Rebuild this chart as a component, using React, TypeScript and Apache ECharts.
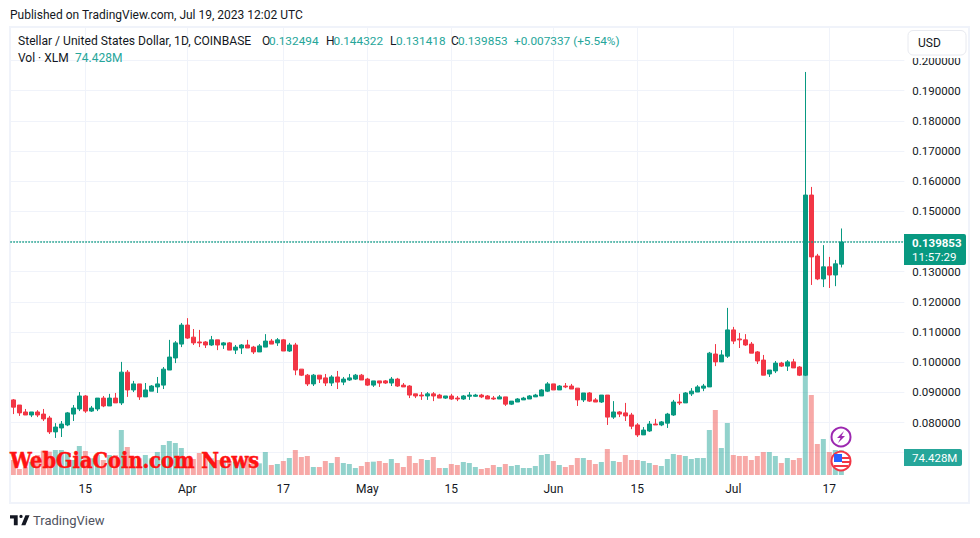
import React, { useEffect, useRef } from "react";
import * as echarts from "echarts";

const opens = [.0875,.0858,.0835,.0825,.0835,.0828,.0815,.0769,.0782,.0792,.0828,.0845,.0888,.0838,.0845,.0881,.0855,.0881,.0865,.0967,.0908,.0928,.0885,.0904,.0918,.0924,.0974,.1014,.1060,.1123,.1083,.1067,.1067,.1057,.1074,.1057,.1064,.1040,.1047,.1057,.1050,.1034,.1050,.1070,.1064,.1074,.1037,.1057,.0977,.0957,.0928,.0957,.0948,.0931,.0951,.0934,.0941,.0944,.0957,.0944,.0924,.0938,.0938,.0931,.0944,.0924,.0921,.0895,.0891,.0888,.0895,.0891,.0881,.0888,.0881,.0878,.0887,.0887,.0891,.0888,.0881,.0878,.0885,.0861,.0868,.0875,.0878,.0885,.0888,.0904,.0928,.0908,.0921,.0921,.0914,.0875,.0898,.0875,.0868,.0891,.0818,.0835,.0832,.0825,.0792,.0759,.0772,.0795,.0792,.0798,.0825,.0868,.0865,.0895,.0901,.0914,.0918,.1027,.1001,.1020,.1107,.1077,.1074,.1060,.1034,.1007,.0961,.0971,.0997,.0987,.1001,.0984,.0957,.1554,.1352,.1276,.1316,.1289,.132494];
const closes = [.0851,.0832,.0825,.0835,.0825,.0812,.0769,.0785,.0795,.0832,.0848,.0888,.0838,.0848,.0881,.0855,.0881,.0865,.0967,.0908,.0928,.0885,.0908,.0921,.0928,.0977,.1017,.1064,.1123,.1080,.1064,.1064,.1057,.1074,.1057,.1064,.1040,.1050,.1057,.1047,.1034,.1054,.1070,.1060,.1074,.1037,.1057,.0974,.0957,.0928,.0957,.0944,.0931,.0951,.0934,.0944,.0948,.0957,.0941,.0924,.0938,.0931,.0931,.0944,.0921,.0918,.0891,.0888,.0888,.0895,.0888,.0881,.0888,.0878,.0878,.0888,.0891,.0891,.0885,.0878,.0878,.0885,.0861,.0871,.0878,.0881,.0888,.0891,.0908,.0928,.0908,.0921,.0918,.0911,.0875,.0898,.0871,.0868,.0891,.0818,.0835,.0828,.0822,.0788,.0759,.0775,.0795,.0792,.0802,.0828,.0868,.0865,.0898,.0904,.0918,.0921,.1030,.1001,.1024,.1107,.1070,.1074,.1057,.1030,.1004,.0957,.0974,.0997,.0987,.1001,.0981,.0957,.1554,.1349,.1276,.1316,.1289,.1326,.139853];
const lows = [.0828,.0822,.0825,.0818,.0818,.0805,.0762,.0749,.0752,.0788,.0805,.0838,.0832,.0835,.0838,.0851,.0855,.0865,.0858,.0885,.0901,.0875,.0885,.0904,.0898,.0911,.0974,.0997,.1050,.1077,.1057,.1050,.1047,.1054,.1040,.1044,.1040,.1027,.1027,.1047,.1027,.1034,.1050,.1060,.1054,.1037,.1034,.0957,.0954,.0921,.0921,.0931,.0921,.0921,.0911,.0924,.0938,.0941,.0941,.0921,.0918,.0918,.0928,.0921,.0918,.0918,.0881,.0881,.0875,.0875,.0871,.0881,.0878,.0875,.0871,.0875,.0875,.0885,.0881,.0878,.0875,.0878,.0855,.0858,.0868,.0875,.0878,.0885,.0888,.0901,.0908,.0908,.0914,.0911,.0855,.0868,.0868,.0868,.0865,.0792,.0812,.0818,.0805,.0778,.0752,.0759,.0769,.0792,.0788,.0782,.0822,.0858,.0865,.0888,.0901,.0904,.0918,.0987,.1001,.1014,.1060,.1047,.1054,.1030,.0994,.0957,.0951,.0964,.0984,.0971,.0981,.0954,.0954,.1256,.1272,.1249,.1246,.1252,.131418];
const highs = [.0878,.0858,.0845,.0835,.0841,.0845,.0822,.0798,.0805,.0835,.0858,.0901,.0891,.0855,.0881,.0888,.0895,.0898,.1001,.0974,.0938,.0928,.0931,.0924,.0951,.0984,.1074,.1070,.1130,.1146,.1110,.1107,.1070,.1087,.1074,.1067,.1067,.1057,.1060,.1074,.1054,.1060,.1093,.1077,.1080,.1077,.1064,.1064,.0977,.0961,.0961,.0957,.0961,.0957,.0971,.0951,.0961,.0961,.0961,.0948,.0938,.0938,.0941,.0951,.0948,.0931,.0924,.0895,.0901,.0901,.0901,.0895,.0888,.0895,.0888,.0891,.0901,.0895,.0895,.0891,.0888,.0891,.0885,.0871,.0881,.0885,.0891,.0895,.0911,.0934,.0928,.0924,.0931,.0928,.0914,.0898,.0901,.0881,.0891,.0891,.0871,.0838,.0865,.0832,.0798,.0785,.0805,.0812,.0805,.0832,.0875,.0895,.0901,.0914,.0924,.0928,.1034,.1060,.1040,.1180,.1117,.1097,.1093,.1067,.1037,.1024,.0974,.1004,.1001,.1007,.1011,.0987,.1962,.1581,.1359,.1388,.1349,.1339,.144322];
const volumes = [45,18,23,40,60,73,70,75,75,65,45,87,72,50,60,45,60,60,135,84,50,50,60,50,69,90,102,96,81,50,48,66,69,50,45,45,42,40,45,57,45,35,69,30,33,42,51,75,54,57,24,24,42,36,54,36,33,21,27,39,40,42,36,48,36,24,57,36,48,45,54,21,21,33,30,39,36,24,18,21,30,24,33,27,30,21,21,27,60,63,42,30,24,30,51,51,45,33,39,78,42,39,60,45,45,42,36,30,27,48,63,60,57,48,51,51,135,195,81,156,60,57,57,45,57,69,69,57,36,51,45,51,300,240,93,108,69,75,74.428];

const startDate = "2023-03-03";
const rightBars = 10;
const tickDates = ["2023-03-15","2023-04-01","2023-04-17","2023-05-01","2023-05-15","2023-06-01","2023-06-15","2023-07-01","2023-07-17"];
const tickLabels = ["15","Apr","17","May","15","Jun","15","Jul","17"];
const lastPrice = 0.139853;

const categories: string[] = [];
{
  const d = new Date(startDate + "T00:00:00Z");
  for (let i = 0; i < opens.length + rightBars; i++) {
    categories.push(d.toISOString().slice(0, 10));
    d.setUTCDate(d.getUTCDate() + 1);
  }
}

const UP = "#089981";
const DOWN = "#F23645";
const VOL_UP = "rgba(38,166,154,0.5)";
const VOL_DOWN = "rgba(239,83,80,0.5)";
const GRID = "#f0f3fa";
const TEXT = "#131722";
const FONT = "Roboto, sans-serif";
const GREEN_TXT = "#26a69a";

echarts.graphic.registerShape(
  "tvlogo",
  echarts.graphic.extendPath("M14 6H0v6h7v12h7V6zM28 24h-7.5L28 6h7.5L28 24zM23 8a3 3 0 1 1-6 0a3 3 0 1 1 6 0z", {})
);

const txt = (x: number, y: number, text: string, fill: string, size = 12, extra: any = {}) => ({
  type: "text",
  x,
  y,
  z: 60,
  silent: true,
  style: {
    text,
    fill,
    font: `${extra.weight || "normal"} ${size}px ${extra.family || FONT}`,
    textVerticalAlign: "middle",
    textAlign: extra.align || "left",
    ...(extra.stroke ? { stroke: extra.stroke, lineWidth: extra.lineWidth || 0.5 } : {}),
  },
});

export default function App() {
  const ref = useRef<HTMLDivElement>(null);
  useEffect(() => {
    const chart = echarts.init(ref.current!, undefined, { renderer: "svg" });
    const paneLeft = 10.33;
    const paneWidth = 894;
    chart.setOption({
      animation: false,
      backgroundColor: "#ffffff",
      textStyle: { fontFamily: FONT },
      grid: [
        { left: paneLeft, top: 28, width: paneWidth, height: 447 },
        { left: paneLeft, top: 60.5, width: paneWidth, height: 392.2 },
      ],
      xAxis: [
        {
          type: "category",
          gridIndex: 0,
          data: categories,
          axisLine: { show: false },
          axisTick: { show: false },
          axisLabel: {
            show: true,
            margin: 8,
            fontSize: 12,
            color: TEXT,
            fontFamily: FONT,
            interval: (_: number, v: string) => tickDates.includes(v),
            formatter: (v: string) => tickLabels[tickDates.indexOf(v)] ?? "",
          },
          splitLine: {
            show: true,
            alignWithLabel: true,
            interval: (_: number, v: string) => tickDates.includes(v),
            lineStyle: { color: GRID, width: 1 },
          },
        },
        {
          type: "category",
          gridIndex: 1,
          data: categories,
          axisLine: { show: false },
          axisTick: { show: false },
          axisLabel: { show: false },
          splitLine: { show: false },
        },
      ],
      yAxis: [
        {
          type: "value",
          gridIndex: 0,
          min: 0,
          max: 1341,
          axisLine: { show: false },
          axisTick: { show: false },
          axisLabel: { show: false },
          splitLine: { show: false },
        },
        {
          type: "value",
          gridIndex: 1,
          position: "right",
          min: 0.07,
          max: 0.2,
          interval: 0.01,
          axisLine: { show: false },
          axisTick: { show: false },
          axisLabel: {
            margin: 8,
            fontSize: 11.5,
            color: TEXT,
            fontFamily: FONT,
            formatter: (v: number) => v.toFixed(6),
          },
          splitLine: { show: true, lineStyle: { color: GRID, width: 1 } },
        },
      ],
      series: [
        {
          type: "bar",
          name: "Vol",
          xAxisIndex: 0,
          yAxisIndex: 0,
          z: 2,
          barWidth: 5,
          data: volumes,
          itemStyle: {
            color: (p: any) => (closes[p.dataIndex] >= opens[p.dataIndex] ? VOL_UP : VOL_DOWN),
          },
        },
        {
          type: "candlestick",
          name: "XLMUSD",
          xAxisIndex: 1,
          yAxisIndex: 1,
          z: 3,
          barWidth: 4,
          data: opens.map((o, i) => [o, closes[i], lows[i], highs[i]]),
          itemStyle: { color: UP, color0: DOWN, borderColor: UP, borderColor0: DOWN, borderWidth: 1 },
          markLine: {
            silent: true,
            symbol: "none",
            label: { show: false },
            lineStyle: { color: UP, type: [1.5, 1.5], width: 1.5, opacity: 1 },
            data: [{ yAxis: lastPrice }],
          },
        },
      ],
      graphic: [
        { type: "rect", z: 5, silent: true, shape: { x: 10, y: 27, width: 959, height: 476 }, style: { fill: "none", stroke: GRID, lineWidth: 2 } },
        txt(10, 15, "Published on TradingView.com, Jul 19, 2023 12:02 UTC", TEXT),
        txt(18, 41, "Stellar / United States Dollar, 1D, COINBASE", TEXT, 12.1),
        txt(262, 41, "O", TEXT),
        txt(269, 41, "0.132494", GREEN_TXT, 11.8),
        txt(326, 41, "H", TEXT),
        txt(333.5, 41, "0.144322", GREEN_TXT, 11.8),
        txt(390, 41, "L", TEXT),
        txt(396, 41, "0.131418", GREEN_TXT, 11.8),
        txt(451, 41, "C", TEXT),
        txt(458, 41, "0.139853", GREEN_TXT, 11.8),
        txt(514, 41, "+0.007337 (+5.54%)", GREEN_TXT, 11.8),
        txt(18, 58, "Vol · XLM", TEXT),
        txt(75, 58, "74.428M", GREEN_TXT),
        { type: "rect", z: 54, silent: true, shape: { x: 905, y: 29, width: 63, height: 29 }, style: { fill: "#fff" } },
        { type: "rect", z: 55, silent: true, shape: { x: 908, y: 30.5, width: 58, height: 24.5, r: 5 }, style: { fill: "#fff", stroke: "#e8eaf0", lineWidth: 1 } },
        txt(918, 43, "USD", TEXT),
        { type: "rect", z: 55, silent: true, shape: { x: 904, y: 234, width: 62, height: 31, r: [0, 2, 2, 0] }, style: { fill: UP } },
        txt(912, 242.5, "0.139853", "#fff", 11.5, { weight: "bold" }),
        txt(912, 257, "11:57:29", "#fff", 11.5),
        { type: "rect", z: 55, silent: true, shape: { x: 904, y: 449, width: 58, height: 17, r: [0, 2, 2, 0] }, style: { fill: GREEN_TXT } },
        txt(912, 458, "74.428M", "#fff", 11.5),
        txt(10, 460, "WebGiaCoin.com News", "#ff1212", 21.6, { weight: "bold", family: "'DejaVu Serif Condensed', 'Liberation Serif', serif", stroke: "#ff1212", lineWidth: 0.5 }),
        { type: "tvlogo", x: 10, y: 512, scaleX: 0.55, scaleY: 0.55, z: 60, silent: true, style: { fill: "#131722" } },
        txt(33, 520, "TradingView", "#50535e", 13),
        { type: "circle", z: 58, silent: true, shape: { cx: 841, cy: 437, r: 9.5 }, style: { fill: "#fff", stroke: "#9c27b0", lineWidth: 2 } },
        { type: "polygon", z: 59, silent: true, shape: { points: [[844, 431], [837, 438], [840.5, 438], [838, 443], [845, 436], [841.5, 436]] }, style: { fill: "#9c27b0" } },
        { type: "circle", z: 58, silent: true, shape: { cx: 841, cy: 461, r: 9.5 }, style: { fill: "#fff", stroke: "#f23645", lineWidth: 2 } },
        { type: "rect", z: 59, silent: true, shape: { x: 842, y: 457, width: 8, height: 2 }, style: { fill: "#f23645" } },
        { type: "rect", z: 59, silent: true, shape: { x: 842, y: 461, width: 8, height: 2 }, style: { fill: "#f23645" } },
        { type: "rect", z: 59, silent: true, shape: { x: 834, y: 465, width: 14, height: 2 }, style: { fill: "#f23645" } },
        { type: "rect", z: 59, silent: true, shape: { x: 834, y: 454, width: 8, height: 8 }, style: { fill: "#2962ff" } },
      ],
    });
    return () => chart.dispose();
  }, []);
  return <div ref={ref} style={{ position: "absolute", left: 0, top: 0, width: 980, height: 538 }} />;
}
